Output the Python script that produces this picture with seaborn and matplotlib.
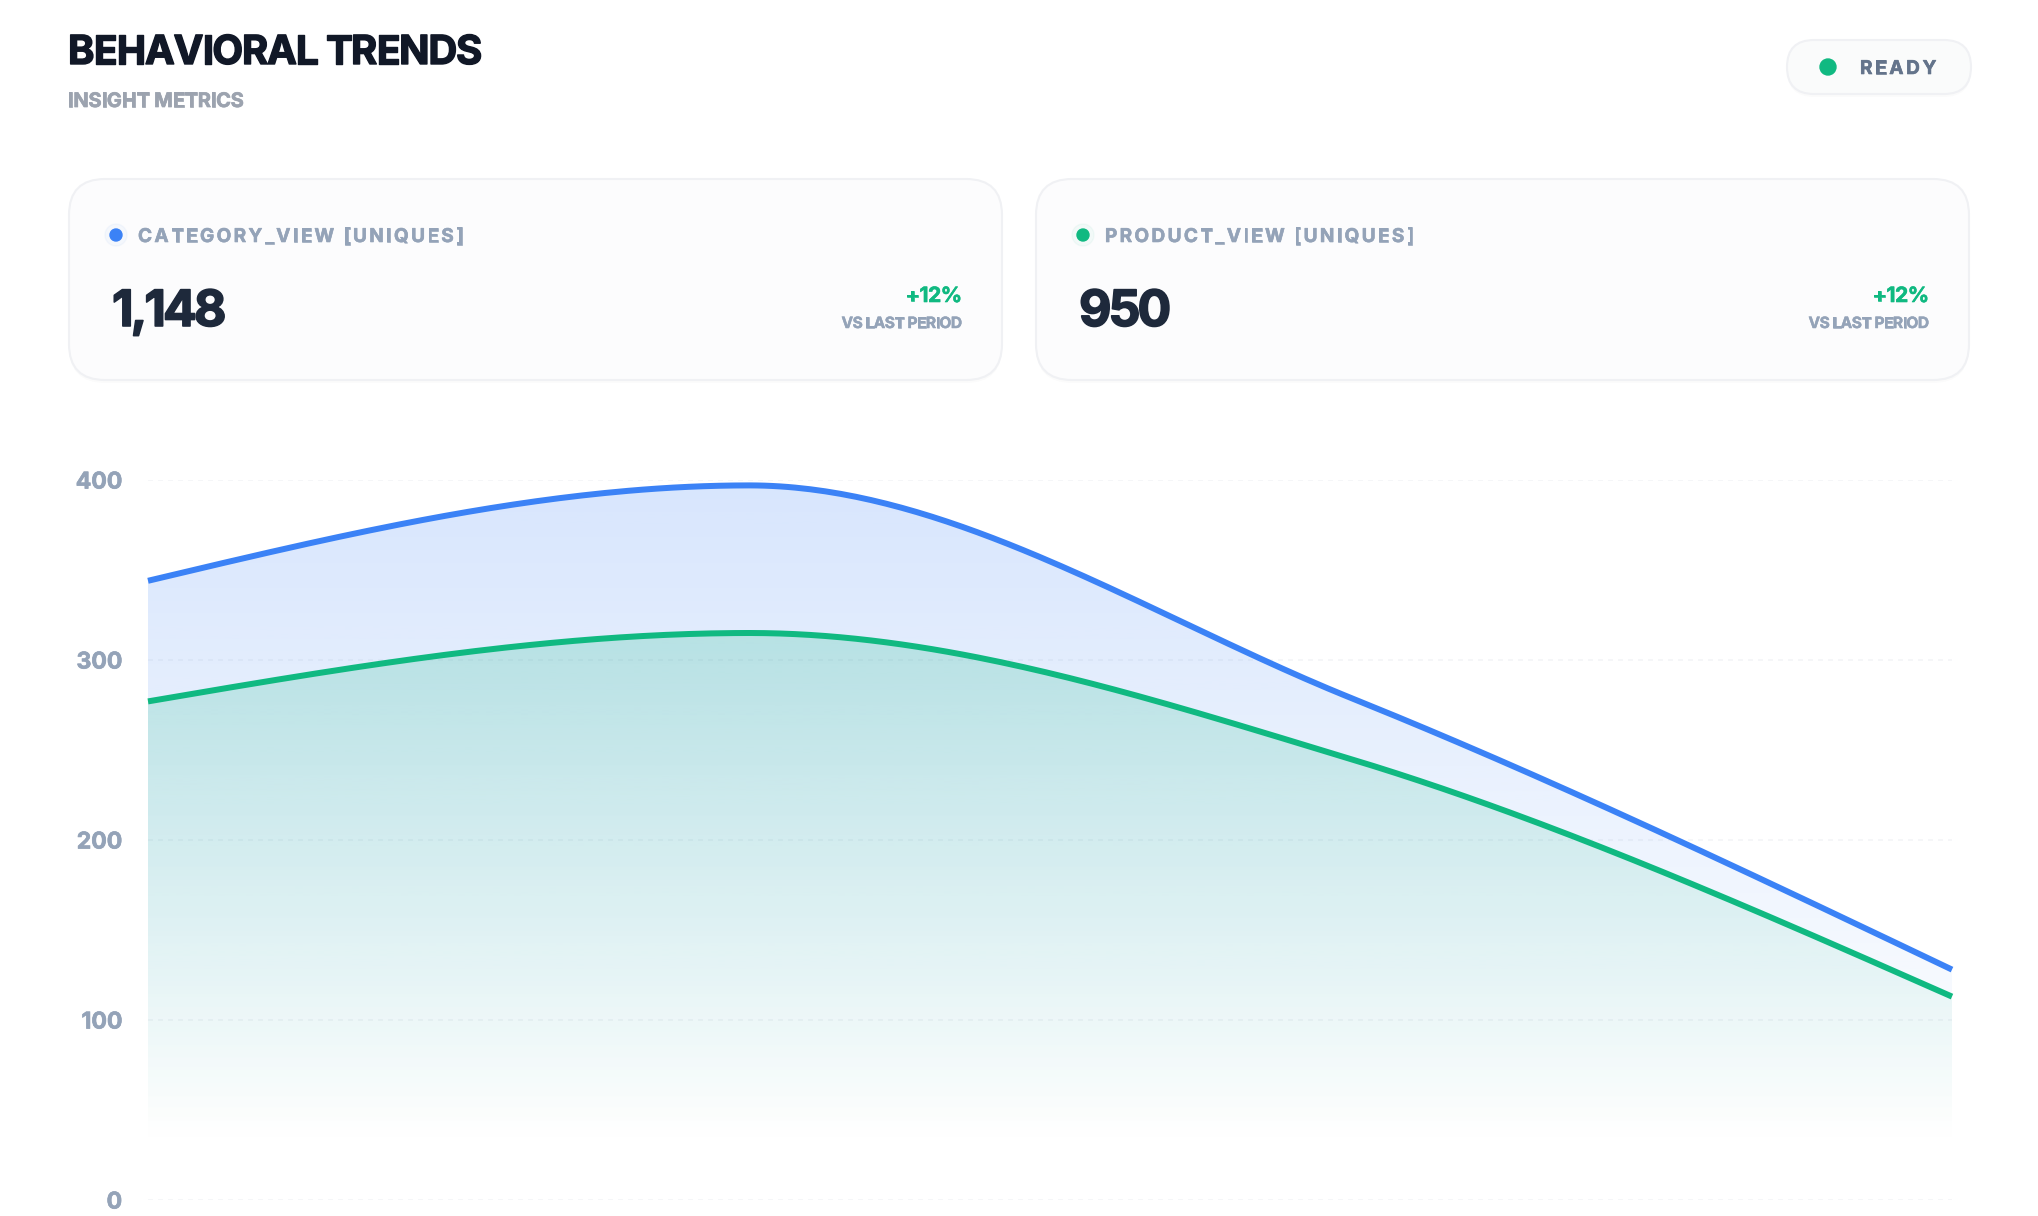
import numpy as np
import pandas as pd
import matplotlib
matplotlib.use("Agg")
import matplotlib.pyplot as plt
import matplotlib.patheffects as pe
import seaborn as sns
from matplotlib.patches import FancyBboxPatch, Circle
from matplotlib.font_manager import FontProperties
from matplotlib.colors import to_rgb

# -----------------------------
# Data
# -----------------------------
steps = [0, 1, 2, 3]
category_view = [344, 397, 279, 128]
product_view = [277, 315, 245, 113]
y_ticks = [0, 100, 200, 300, 400]

series_names = ["CATEGORY_VIEW [UNIQUES]", "PRODUCT_VIEW [UNIQUES]"]
series_colors = ["#3b82f6", "#10b981"]
changes = ["+12%", "+12%"]

# -----------------------------
# Canvas (1 data unit = 1 pixel on the overlay)
# -----------------------------
W, H, DPI = 2038, 1216, 100
PT = 72 / DPI
FONTS = ["Inter", "DejaVu Sans"]

sns.set_theme(style="white")
plt.rcParams["font.family"] = FONTS

fig = plt.figure(figsize=(W / DPI, H / DPI), dpi=DPI, facecolor="white")
bg = fig.add_axes([0, 0, 1, 1])
bg.set_xlim(0, W)
bg.set_ylim(H, 0)
bg.axis("off")

renderer = fig.canvas.get_renderer()


def text_w(s, fp):
    w, _, _ = renderer.get_text_width_height_descent(s, fp, ismath=False)
    return w


def spaced_text(x, y, s, size_px, track_px, color, weight="bold", ha="left", thick=0.0):
    fp = FontProperties(family=FONTS, size=size_px * PT, weight=weight)
    ref = text_w("I", fp)
    offs = [0.0] + [text_w(s[:i] + "I", fp) - ref + i * track_px for i in range(1, len(s))]
    total = text_w(s, fp) + track_px * (len(s) - 1)
    x0 = x - total if ha == "right" else x
    fx = [pe.withStroke(linewidth=thick * PT, foreground=color)] if thick else None
    for ch, o in zip(s, offs):
        if ch == " ":
            continue
        bg.text(x0 + o, y, ch, fontproperties=fp, color=color, ha="left", va="baseline",
                zorder=5, path_effects=fx)


def rounded(x0, y0, x1, y1, r, face, edge, z=1):
    bg.add_patch(FancyBboxPatch((x0, y0 + 3), x1 - x0, y1 - y0,
                                boxstyle=f"round,pad=0,rounding_size={r}",
                                facecolor="black", edgecolor="none", alpha=0.015, zorder=z))
    bg.add_patch(FancyBboxPatch((x0, y0), x1 - x0, y1 - y0,
                                boxstyle=f"round,pad=0,rounding_size={r}",
                                facecolor=face, edgecolor=edge, linewidth=1.5, zorder=z + 0.1))


# -----------------------------
# Header
# -----------------------------
spaced_text(68, 64, "BEHAVIORAL TRENDS", 40, -1.2, "#111827", thick=1.4)
spaced_text(68, 107, "INSIGHT METRICS", 20, -0.2, "#9ca3af", thick=0.7)

rounded(1787, 40, 1971, 94, 27, "#fafbfb", "#f0f1f4")
bg.add_patch(Circle((1828, 67), 8, color="#10b981", zorder=5))
spaced_text(1860, 74, "READY", 19, 2.7, "#64748b", thick=0.6)

# -----------------------------
# KPI cards
# -----------------------------
card_x = [69, 1036]
card_w = 933
for cx, name, color, vals, chg in zip(card_x, series_names, series_colors,
                                      [category_view, product_view], changes):
    rounded(cx, 179, cx + card_w, 380, 36, "#fcfcfd", "#f0f1f4")
    bg.add_patch(Circle((cx + 47, 235), 11, color=color, alpha=0.04, zorder=4))
    bg.add_patch(Circle((cx + 47, 235), 6, color=color, zorder=5))
    spaced_text(cx + 69, 242, name, 19, 2.4, "#94a3b8", thick=0.6)
    spaced_text(cx + 43, 326, f"{sum(vals):,}", 50, -3.0, "#1e293b", thick=1.6)
    spaced_text(cx + card_w - 40, 302, chg, 21, -0.4, "#10b981", ha="right", thick=0.6)
    spaced_text(cx + card_w - 40, 328, "VS LAST PERIOD", 15.5, -0.5, "#94a3b8", ha="right", thick=0.5)


# -----------------------------
# Smooth curve (d3 monotoneX style rendering of the 4 points)
# -----------------------------
def monotone_x(xs, ys, per_seg=80):
    xs, ys = np.asarray(xs, float), np.asarray(ys, float)
    h = np.diff(xs)
    s = np.diff(ys) / h
    t = np.zeros_like(ys)
    for i in range(1, len(ys) - 1):
        p = (s[i - 1] * h[i] + s[i] * h[i - 1]) / (h[i - 1] + h[i])
        t[i] = (np.sign(s[i - 1]) + np.sign(s[i])) * min(abs(s[i - 1]), abs(s[i]), 0.5 * abs(p))
    t[0] = (3 * s[0] - t[1]) / 2
    t[-1] = (3 * s[-1] - t[-2]) / 2
    out_x, out_y = [], []
    u = np.linspace(0, 1, per_seg)
    for i in range(len(xs) - 1):
        h00 = 2 * u**3 - 3 * u**2 + 1
        h10 = u**3 - 2 * u**2 + u
        h01 = -2 * u**3 + 3 * u**2
        h11 = u**3 - u**2
        out_x.append(xs[i] + u * h[i])
        out_y.append(h00 * ys[i] + h10 * h[i] * t[i] + h01 * ys[i + 1] + h11 * h[i] * t[i + 1])
    return np.concatenate(out_x), np.concatenate(out_y)


frames = []
for name, vals in zip(series_names, [category_view, product_view]):
    cx_, cy_ = monotone_x(steps, vals)
    frames.append(pd.DataFrame({"step": cx_, "uniques": cy_, "event": name}))
curve = pd.concat(frames, ignore_index=True)

# -----------------------------
# Chart
# -----------------------------
ax = fig.add_axes([148 / W, 16 / H, (1952 - 148) / W, 720 / H])
ax.set_facecolor("none")

for z, (name, color) in enumerate(zip(series_names, series_colors)):
    d = curve[curve["event"] == name]
    poly = ax.fill_between(d["step"], d["uniques"], 0, facecolor="none", edgecolor="none")
    top = d["uniques"].max()
    grad = np.zeros((256, 1, 4))
    grad[:, 0, :3] = to_rgb(color)
    grad[:, 0, 3] = np.clip(np.linspace(0.2, -0.02, 256), 0, None)
    im = ax.imshow(grad, extent=[steps[0], steps[-1], 0, top], origin="upper",
                   aspect="auto", zorder=1 + z, interpolation="bilinear")
    im.set_clip_path(poly.get_paths()[0], transform=ax.transData)

sns.lineplot(data=curve, x="step", y="uniques", hue="event", hue_order=series_names,
             palette=dict(zip(series_names, series_colors)), linewidth=6 * PT,
             estimator=None, sort=False, legend=False, ax=ax)
for line in ax.get_lines():
    line.set_zorder(4)
    line.set_clip_on(False)
    line.set_solid_capstyle("butt")

ax.set_xlim(steps[0], steps[-1])
ax.set_ylim(0, 400)
ax.set_yticks(y_ticks)
ax.set_yticklabels([str(v) for v in y_ticks])
ax.set_xticks([])
ax.set_xlabel("")
ax.set_ylabel("")
ax.tick_params(axis="y", length=0, pad=26 * PT, labelsize=23 * PT, labelcolor="#94a3b8")
for lbl in ax.get_yticklabels():
    lbl.set_fontweight("bold")
    lbl.set_path_effects([pe.withStroke(linewidth=0.7 * PT, foreground="#94a3b8")])
ax.set_axisbelow(True)
ax.yaxis.grid(True, color="#f4f5f7", linestyle=(0, (3, 3)), linewidth=1.2)
for sp in ax.spines.values():
    sp.set_visible(False)

plt.savefig("out.png", dpi=DPI, facecolor="white")
plt.close()
